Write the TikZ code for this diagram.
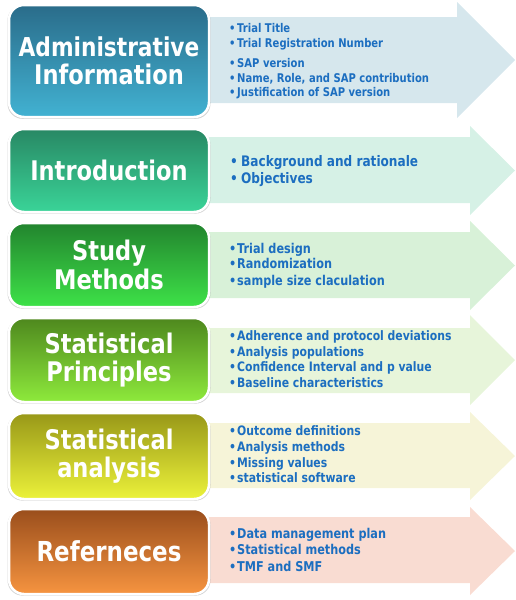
\documentclass[tikz,border=0pt]{standalone}
\usepackage{fontspec}
\newfontfamily\tf[FakeStretch=0.835]{DejaVu Sans Bold}
\usetikzlibrary{shadows}
\definecolor{itemblue}{RGB}{28,110,192}
\definecolor{a1}{RGB}{214,231,237}
\definecolor{a2}{RGB}{214,241,230}
\definecolor{a3}{RGB}{216,241,216}
\definecolor{a4}{RGB}{231,245,218}
\definecolor{a5}{RGB}{246,244,216}
\definecolor{a6}{RGB}{249,220,210}
\definecolor{t1}{RGB}{42,108,138}\definecolor{b1}{RGB}{66,178,210}
\definecolor{t2}{RGB}{40,136,100}\definecolor{b2}{RGB}{58,212,152}
\definecolor{t3}{RGB}{34,132,46}\definecolor{b3}{RGB}{62,226,72}
\definecolor{t4}{RGB}{78,136,30}\definecolor{b4}{RGB}{142,234,60}
\definecolor{t5}{RGB}{152,152,24}\definecolor{b5}{RGB}{236,242,58}
\definecolor{t6}{RGB}{154,78,28}\definecolor{b6}{RGB}{246,148,64}
\newcommand\bul[1]{\makebox[#1][l]{•}}
\begin{document}
\begin{tikzpicture}[x=1pt,y=-1pt,
  box/.style={rounded corners=15pt, draw=white, line width=2.5pt,
    minimum width=200pt, minimum height=#1, inner sep=0pt, align=center,
    text=white, font=\tf\fontsize{27}{28.5}\selectfont,
    drop shadow={shadow xshift=0pt, shadow yshift=-1pt, shadow scale=1.015, opacity=0.35}},
  bt/.style={anchor=base west, inner sep=0pt, text=itemblue,
    font=\tf\fontsize{#1}{#1}\selectfont},
  bt/.default=12]
\useasboundingbox (0,0) rectangle (516,600);
% arrows
\fill[a1] (205,17) -- (457,17) -- (457,2) -- (515,60) -- (457,118) -- (457,103) -- (205,103) -- cycle;
\fill[a2] (205,137) -- (470,137) -- (470,126) -- (515,170.5) -- (470,215) -- (470,203) -- (205,203) -- cycle;
\fill[a3] (205,232) -- (470,232) -- (470,221) -- (515,265.5) -- (470,310) -- (470,298) -- (205,298) -- cycle;
\fill[a4] (205,328) -- (470,328) -- (470,315) -- (515,360) -- (470,405) -- (470,393) -- (205,393) -- cycle;
\fill[a5] (205,423) -- (470,423) -- (470,412) -- (515,456) -- (470,500) -- (470,488) -- (205,488) -- cycle;
\fill[a6] (205,517) -- (470,517) -- (470,507) -- (515,551) -- (470,595) -- (470,583) -- (205,583) -- cycle;
% boxes
\node[box=112pt, top color=t1, bottom color=b1] (n1) at (109,61)
  {\fontsize{26}{27}\selectfont Administrative\\Information};
\node[box=83pt, top color=t2, bottom color=b2] (n2) at (109,170.5) {Introduction};
\node[box=84pt, top color=t3, bottom color=b3] (n3) at (109,265) {Study\\Methods};
\node[box=84pt, top color=t4, bottom color=b4] (n4) at (109,360) {Statistical\\Principles};
\node[box=86pt, top color=t5, bottom color=b5] (n5) at (109,456) {Statistical\\analysis};
\node[box=85pt, top color=t6, bottom color=b6] (n6) at (109,551.5) {\fontsize{27.5}{28}\selectfont Referneces};
% items row 1
\node[bt] (i11) at (229,32) {\bul{8pt}Trial Title};
\node[bt] (i12) at (229,47) {\bul{8pt}Trial Registration Number};
\node[bt] (i13) at (229,67) {\bul{8pt}SAP version};
\node[bt] (i14) at (229,82) {\bul{8pt}Name, Role, and SAP contribution};
\node[bt] (i15) at (229,96) {\bul{8pt}Justification of SAP version};
% row 2
\node[bt=14.5] (i21) at (230,166) {\bul{11pt}Background and rationale};
\node[bt=14.5] (i22) at (230,183) {\bul{11pt}Objectives};
% row 3
\node[bt=13.5] (i31) at (229,253) {\bul{8pt}Trial design};
\node[bt=13.5] (i32) at (229,268.5) {\bul{8pt}Randomization};
\node[bt=13.5] (i33) at (229,285) {\bul{8pt}sample size claculation};
% row 4
\node[bt=13] (i41) at (229,340) {\bul{8pt}Adherence and protocol deviations};
\node[bt=13] (i42) at (229,356) {\bul{8pt}Analysis populations};
\node[bt=13] (i43) at (229,371) {\bul{8pt}Confidence Interval and p value};
\node[bt=13] (i44) at (229,387) {\bul{8pt}Baseline characteristics};
% row 5
\node[bt=13] (i51) at (229,435) {\bul{8pt}Outcome definitions};
\node[bt=13] (i52) at (229,451) {\bul{8pt}Analysis methods};
\node[bt=13] (i53) at (229,467) {\bul{8pt}Missing values};
\node[bt=13] (i54) at (229,482) {\bul{8pt}statistical software};
% row 6
\node[bt=13.5] (i61) at (229,538) {\bul{8pt}Data management plan};
\node[bt=13.5] (i62) at (229,554) {\bul{8pt}Statistical methods};
\node[bt=13.5] (i63) at (229,571) {\bul{8pt}TMF and SMF};
\end{tikzpicture}
\end{document}
